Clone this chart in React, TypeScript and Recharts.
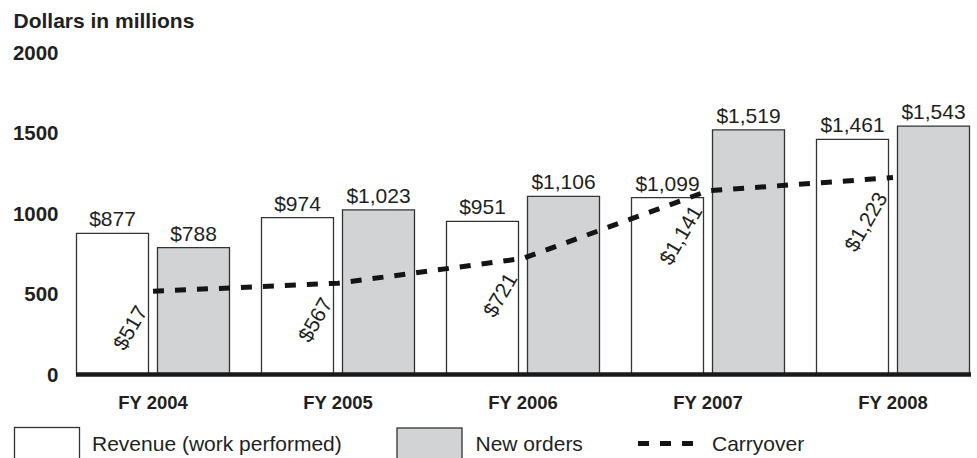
import React from 'react';
import { ComposedChart, Bar, Line, XAxis, YAxis, ReferenceLine, LabelList } from 'recharts';

const categories = ['FY 2004', 'FY 2005', 'FY 2006', 'FY 2007', 'FY 2008'];
const revenue = [877, 974, 951, 1099, 1461];
const newOrders = [788, 1023, 1106, 1519, 1543];
const carryover = [517, 567, 721, 1141, 1223];
const yTicks = [0, 500, 1000, 1500, 2000];

const data = categories.map((c, i) => ({
  name: c,
  revenue: revenue[i],
  newOrders: newOrders[i],
  carryover: carryover[i],
}));

const FONT = '"Liberation Sans", Arial, Helvetica, sans-serif';
const INK = '#231f20';
const GRAY = '#d1d3d4';
const EDGE = '#333333';

const money = (v: any) => '$' + Number(v).toLocaleString('en-US');

const CarryLabel = (props: any) => {
  const { x, y, value } = props;
  const ax = x - 5;
  const ay = y + 20;
  return (
    <text
      x={ax}
      y={ay}
      transform={`rotate(-60 ${ax} ${ay})`}
      textAnchor="end"
      fontFamily={FONT}
      fontSize={21}
      fill={INK}
    >
      {money(value)}
    </text>
  );
};

const Baseline = (props: any) => {
  const { x1, x2, y1 } = props;
  return <line x1={x1 + 15.5} x2={x2 - 14.5} y1={y1} y2={y1} stroke="#1a1a1a" strokeWidth={4.5} />;
};

export default function App() {
  return (
    <div style={{ position: 'absolute', left: 0, top: 0, width: 977, height: 458, overflow: 'hidden', background: '#fff' }}>
      <ComposedChart
        width={990}
        height={458}
        data={data}
        margin={{ top: 52.5, right: 4.5, bottom: 53.5, left: 0 }}
        barSize={72}
        barGap={9}
      >
        <XAxis
          dataKey="name"
          axisLine={false}
          tickLine={false}
          tickSize={0}
          tickMargin={21.5}
          height={30}
          interval={0}
          tick={{ fontFamily: FONT, fontSize: 18.5, fontWeight: 'bold', fill: INK }}
        />
        <YAxis
          domain={[0, 2000]}
          ticks={yTicks}
          axisLine={false}
          tickLine={false}
          tickSize={0}
          tickMargin={2}
          width={60.5}
          interval={0}
          tick={{ fontFamily: FONT, fontSize: 20.5, fontWeight: 'bold', fill: INK }}
        />
        <Bar dataKey="revenue" fill="#ffffff" stroke={EDGE} strokeWidth={1.3} isAnimationActive={false}>
          <LabelList
            dataKey="revenue"
            position="top"
            offset={7}
            formatter={money}
            style={{ fontFamily: FONT, fontSize: 21, fill: INK }}
          />
        </Bar>
        <Bar dataKey="newOrders" fill={GRAY} stroke={EDGE} strokeWidth={1.3} isAnimationActive={false}>
          <LabelList
            dataKey="newOrders"
            position="top"
            offset={7}
            formatter={money}
            style={{ fontFamily: FONT, fontSize: 21, fill: INK }}
          />
        </Bar>
        <Line
          type="linear"
          dataKey="carryover"
          stroke="#141414"
          strokeWidth={5}
          strokeDasharray="11 11"
          dot={false}
          activeDot={false}
          isAnimationActive={false}
        >
          <LabelList dataKey="carryover" content={<CarryLabel />} />
        </Line>
        <ReferenceLine y={0} shape={<Baseline />} />
      </ComposedChart>
      <svg width={977} height={458} style={{ position: 'absolute', left: 0, top: 0, pointerEvents: 'none' }}>
        <text x={13.5} y={27.7} fontFamily={FONT} fontSize={21} fontWeight="bold" fill={INK}>
          Dollars in millions
        </text>
        <rect x={14.5} y={427.5} width={65} height={40} fill="#ffffff" stroke={EDGE} strokeWidth={1.3} />
        <text x={92} y={450.5} fontFamily={FONT} fontSize={21} fill={INK}>
          Revenue (work performed)
        </text>
        <rect x={397} y={428} width={65} height={40} fill={GRAY} stroke={EDGE} strokeWidth={1.3} />
        <text x={475.5} y={450.5} fontFamily={FONT} fontSize={21} fill={INK}>
          New orders
        </text>
        <line x1={638} x2={693} y1={443.5} y2={443.5} stroke="#141414" strokeWidth={5} strokeDasharray="11 11" />
        <text x={712} y={450.5} fontFamily={FONT} fontSize={21} fill={INK}>
          Carryover
        </text>
      </svg>
    </div>
  );
}
